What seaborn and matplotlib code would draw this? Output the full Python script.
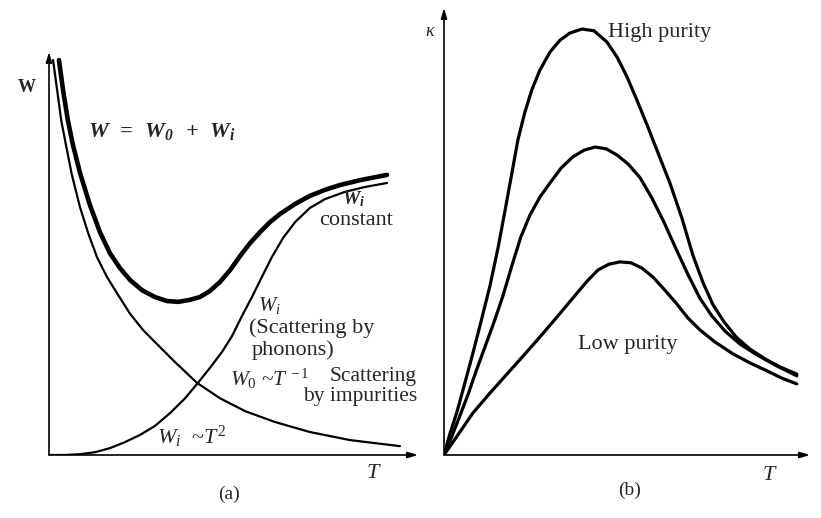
import matplotlib.pyplot as plt
import seaborn as sns

# (a) thermal resistivity W against T (arbitrary units 0-10)
t_w0 = [0.11, 0.22, 0.33, 0.46, 0.62, 0.84, 1.06, 1.30, 1.57, 1.84, 2.20, 2.55, 2.93, 3.41,
        4.01, 4.63, 5.31, 6.12, 7.07, 8.16, 9.51]
w_0 = [9.80, 9.06, 8.31, 7.69, 6.95, 6.15, 5.51, 4.91, 4.42, 4.02, 3.50, 3.10, 2.75, 2.31,
       1.79, 1.41, 1.09, 0.82, 0.57, 0.37, 0.22]

t_wi = [0.0, 0.43, 0.84, 1.25, 1.65, 2.06, 2.47, 2.87, 3.28, 3.69, 4.01, 4.36, 4.69, 4.96,
        5.23, 5.50, 5.77, 6.04, 6.34, 6.67, 7.07, 7.48, 8.02, 8.56, 9.16]
w_i = [0.0, 0.0, 0.02, 0.07, 0.17, 0.32, 0.50, 0.72, 1.04, 1.41, 1.76, 2.16, 2.56, 2.95,
       3.45, 3.92, 4.42, 4.91, 5.38, 5.78, 6.13, 6.35, 6.53, 6.65, 6.75]

t_w = [0.27, 0.38, 0.51, 0.65, 0.84, 1.11, 1.38, 1.65, 1.92, 2.20, 2.52, 2.87, 3.20, 3.50,
       3.82, 4.09, 4.36, 4.63, 4.91, 5.18, 5.45, 5.72, 5.99, 6.26, 6.67, 7.07, 7.48, 7.89,
       8.43, 9.16]
w_tot = [9.80, 9.06, 8.31, 7.69, 7.00, 6.20, 5.53, 5.01, 4.64, 4.34, 4.09, 3.92, 3.82, 3.80,
         3.85, 3.92, 4.07, 4.29, 4.59, 4.94, 5.26, 5.53, 5.78, 5.98, 6.23, 6.43, 6.58, 6.70,
         6.82, 6.95]

# (b) thermal conductivity kappa against T for three purities
t_high = [0.0, 0.16, 0.36, 0.57, 0.79, 1.01, 1.26, 1.48, 1.67, 1.86, 2.02, 2.21, 2.40, 2.62,
          2.90, 3.17, 3.44, 3.77, 4.10, 4.45, 4.73, 5.00, 5.27, 5.57, 5.87, 6.17, 6.50, 6.80,
          7.08, 7.35, 7.65, 7.98, 8.36, 8.77, 9.18, 9.64]
k_high = [0.0, 0.47, 0.98, 1.61, 2.28, 2.98, 3.80, 4.65, 5.48, 6.33, 7.05, 7.67, 8.17, 8.61,
          9.02, 9.28, 9.44, 9.53, 9.49, 9.24, 8.90, 8.46, 7.94, 7.34, 6.71, 6.09, 5.30, 4.47,
          3.85, 3.36, 2.98, 2.64, 2.37, 2.15, 1.97, 1.81]

t_mid = [0.0, 0.22, 0.44, 0.66, 0.87, 1.12, 1.37, 1.61, 1.86, 2.10, 2.35, 2.62, 2.90, 3.20,
         3.52, 3.83, 4.13, 4.43, 4.73, 5.03, 5.36, 5.68, 6.01, 6.34, 6.67, 6.99, 7.32, 7.68,
         8.09, 8.55, 9.10, 9.64]
k_mid = [0.0, 0.43, 0.89, 1.36, 1.86, 2.42, 2.98, 3.56, 4.25, 4.88, 5.37, 5.77, 6.09, 6.42,
         6.67, 6.82, 6.89, 6.85, 6.71, 6.51, 6.20, 5.75, 5.21, 4.61, 4.03, 3.51, 3.11, 2.77,
         2.48, 2.24, 1.99, 1.77]

t_low = [0.0, 0.38, 0.79, 1.26, 1.72, 2.19, 2.62, 3.09, 3.52, 3.91, 4.21, 4.51, 4.81, 5.11,
         5.41, 5.71, 6.01, 6.34, 6.67, 6.99, 7.40, 7.90, 8.36, 8.83, 9.23, 9.64]
k_low = [0.0, 0.45, 0.94, 1.39, 1.81, 2.24, 2.64, 3.09, 3.51, 3.89, 4.14, 4.27, 4.32, 4.30,
         4.18, 3.98, 3.71, 3.40, 3.06, 2.80, 2.53, 2.26, 2.06, 1.88, 1.72, 1.59]

sns.set_style("white")
plt.rcParams["font.family"] = ["Liberation Serif", "DejaVu Serif"]
plt.rcParams["mathtext.fontset"] = "custom"
plt.rcParams["mathtext.rm"] = "Liberation Serif"
plt.rcParams["mathtext.it"] = "Liberation Serif:italic"
plt.rcParams["mathtext.bf"] = "Liberation Serif:bold:italic"

fig = plt.figure(figsize=(8.21, 5.18), dpi=100)
ax1 = fig.add_axes([49 / 821, 63 / 518, 369 / 821, 403 / 518])
ax2 = fig.add_axes([444 / 821, 63 / 518, 366 / 821, 447 / 518])


def arrow_axes(ax):
    for s in ax.spines.values():
        s.set_visible(False)
    ax.set_xlim(0, 10)
    ax.set_ylim(0, 10)
    ax.set_xticks([])
    ax.set_yticks([])
    ax.set_xlabel("")
    ax.set_ylabel("")
    head = dict(arrowstyle="-|>,head_length=0.6,head_width=0.18", lw=1.2, color="k",
                shrinkA=0, shrinkB=0)
    ax.annotate("", xy=(1, 0), xytext=(0, 0), xycoords="axes fraction", arrowprops=head)
    ax.annotate("", xy=(0, 1), xytext=(0, 0), xycoords="axes fraction", arrowprops=head)


def put(x, y, s, **kw):
    # positions given in picture pixels from the top-left corner
    kw.setdefault("fontsize", 16)
    kw.setdefault("va", "center")
    fig.text(x / 821, 1 - y / 518, s, **kw)


# panel (a)
sns.lineplot(x=t_w0, y=w_0, ax=ax1, color="k", lw=1.6, estimator=None)
sns.lineplot(x=t_wi, y=w_i, ax=ax1, color="k", lw=1.6, estimator=None)
sns.lineplot(x=t_w, y=w_tot, ax=ax1, color="k", lw=3.3, estimator=None)
arrow_axes(ax1)

put(27, 88, "W", fontsize=13, fontweight="bold", ha="center")
put(88, 132, r"$\mathbf{W\;\;=\;\;W_0\;\;+\;\;W_i}$", ha="left")
put(354, 199, r"$\mathbf{W_i}$", fontsize=14, ha="center")
put(356, 221, "constant", ha="center")
put(258, 305, r"$W_i$", fontsize=15, ha="left")
put(249, 328, "(Scattering by", ha="left")
put(252, 350, "phonons)", ha="left")
put(230, 379, r"$W_0$ ~$T^{\,-1}$", fontsize=15.5, ha="left")
put(417, 377, "Scattering", fontsize=15.5, ha="right")
put(417, 397, "by impurities", fontsize=15.5, ha="right")
put(157, 437, r"$W_i$  ~$T^2$", ha="left")
put(374, 473, r"$T$", ha="center")
put(229, 494, "(a)", fontsize=14, ha="center")

# panel (b)
sns.lineplot(x=t_high, y=k_high, ax=ax2, color="k", lw=2.3, estimator=None)
sns.lineplot(x=t_mid, y=k_mid, ax=ax2, color="k", lw=2.3, estimator=None)
sns.lineplot(x=t_low, y=k_low, ax=ax2, color="k", lw=2.3, estimator=None)
arrow_axes(ax2)

put(430, 31, r"$\kappa$", fontsize=13, ha="center")
put(608, 33, "High purity", ha="left")
put(578, 345, "Low purity", ha="left")
put(770, 475, r"$T$", ha="center")
put(630, 490, "(b)", fontsize=14, ha="center")

fig.savefig("out.png", dpi=100)
